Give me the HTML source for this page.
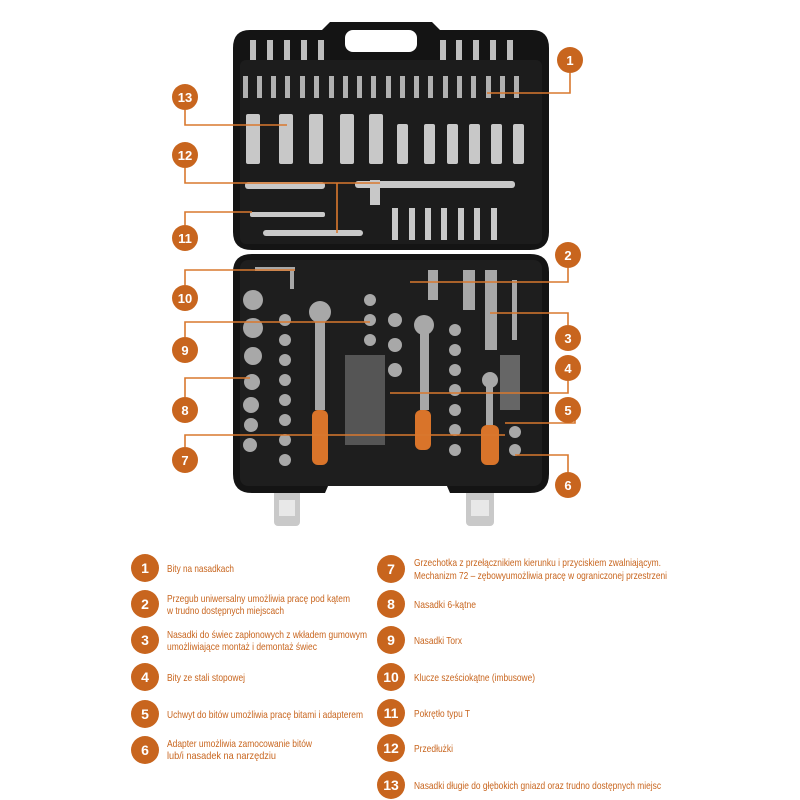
<!DOCTYPE html>
<html><head><meta charset="utf-8"><style>
html,body{margin:0;padding:0;background:#fff}
svg{display:block}
.t{font-family:"Liberation Sans",sans-serif;font-size:10.5px;fill:#c8651e}
.n{font-family:"Liberation Sans",sans-serif;font-weight:bold;fill:#fff;text-anchor:middle}
.l{stroke:#d9782e;stroke-width:1.6;fill:none}
</style></head><body>
<svg width="800" height="800" viewBox="0 0 800 800" xmlns="http://www.w3.org/2000/svg">
<rect x="274" y="482" width="26" height="44" rx="4" fill="#c9c9c9"/>
<rect x="466" y="482" width="28" height="44" rx="4" fill="#c9c9c9"/>
<rect x="279" y="500" width="16" height="16" fill="#e8e8e8"/>
<rect x="471" y="500" width="18" height="16" fill="#e8e8e8"/>
<path d="M250 30 Q233 30 233 48 L233 232 Q233 250 252 250 L530 250 Q549 250 549 232 L549 48 Q549 30 532 30 L440 30 L432 22 L330 22 L322 30 Z" fill="#141414"/>
<rect x="345" y="30" width="72" height="22" rx="8" fill="#fff"/>
<path d="M252 254 Q233 254 233 272 L233 474 Q233 493 252 493 L325 493 L335 470 L440 470 L450 493 L530 493 Q549 493 549 474 L549 272 Q549 254 530 254 Z" fill="#141414"/>
<rect x="240" y="260" width="302" height="226" rx="8" fill="#1e1e1e"/>
<rect x="240" y="60" width="302" height="184" rx="6" fill="#1c1c1c"/>
<g fill="#bdbdbd">
<rect x="250" y="40" width="6" height="20"/><rect x="267" y="40" width="6" height="20"/><rect x="284" y="40" width="6" height="20"/><rect x="301" y="40" width="6" height="20"/><rect x="318" y="40" width="6" height="20"/>
<rect x="440" y="40" width="6" height="20"/><rect x="456" y="40" width="6" height="20"/><rect x="473" y="40" width="6" height="20"/><rect x="490" y="40" width="6" height="20"/><rect x="507" y="40" width="6" height="20"/>
</g>
<g fill="#b0b0b0">
<rect x="243" y="76" width="5" height="22"/><rect x="257" y="76" width="5" height="22"/><rect x="271" y="76" width="5" height="22"/><rect x="285" y="76" width="5" height="22"/><rect x="300" y="76" width="5" height="22"/><rect x="314" y="76" width="5" height="22"/><rect x="329" y="76" width="5" height="22"/><rect x="343" y="76" width="5" height="22"/><rect x="357" y="76" width="5" height="22"/><rect x="371" y="76" width="5" height="22"/><rect x="386" y="76" width="5" height="22"/><rect x="400" y="76" width="5" height="22"/><rect x="414" y="76" width="5" height="22"/><rect x="428" y="76" width="5" height="22"/><rect x="443" y="76" width="5" height="22"/><rect x="457" y="76" width="5" height="22"/><rect x="471" y="76" width="5" height="22"/><rect x="486" y="76" width="5" height="22"/><rect x="500" y="76" width="5" height="22"/><rect x="514" y="76" width="5" height="22"/>
</g>
<g fill="#c8c8c8">
<rect x="246" y="114" width="14" height="50" rx="2"/><rect x="279" y="114" width="14" height="50" rx="2"/><rect x="309" y="114" width="14" height="50" rx="2"/><rect x="340" y="114" width="14" height="50" rx="2"/><rect x="369" y="114" width="14" height="50" rx="2"/>
<rect x="397" y="124" width="11" height="40" rx="2"/><rect x="424" y="124" width="11" height="40" rx="2"/><rect x="447" y="124" width="11" height="40" rx="2"/><rect x="469" y="124" width="11" height="40" rx="2"/><rect x="491" y="124" width="11" height="40" rx="2"/><rect x="513" y="124" width="11" height="40" rx="2"/>
<rect x="245" y="182" width="80" height="7" rx="3"/><rect x="355" y="181" width="160" height="7" rx="3"/><rect x="370" y="180" width="10" height="25"/>
<rect x="250" y="212" width="75" height="5" rx="2"/><rect x="263" y="230" width="100" height="6" rx="3"/>
<rect x="392" y="208" width="6" height="32"/><rect x="409" y="208" width="6" height="32"/><rect x="425" y="208" width="6" height="32"/><rect x="441" y="208" width="6" height="32"/><rect x="458" y="208" width="6" height="32"/><rect x="474" y="208" width="6" height="32"/><rect x="491" y="208" width="6" height="32"/>
</g>
<g fill="#a8a8a8">
<circle cx="253" cy="300" r="10"/><circle cx="253" cy="328" r="10"/><circle cx="253" cy="356" r="9"/><circle cx="252" cy="382" r="8"/><circle cx="251" cy="405" r="8"/><circle cx="251" cy="425" r="7"/><circle cx="250" cy="445" r="7"/>
<circle cx="285" cy="320" r="6"/><circle cx="285" cy="340" r="6"/><circle cx="285" cy="360" r="6"/><circle cx="285" cy="380" r="6"/><circle cx="285" cy="400" r="6"/><circle cx="285" cy="420" r="6"/><circle cx="285" cy="440" r="6"/><circle cx="285" cy="460" r="6"/>
<circle cx="370" cy="300" r="6"/><circle cx="370" cy="320" r="6"/><circle cx="370" cy="340" r="6"/><circle cx="395" cy="320" r="7"/><circle cx="395" cy="345" r="7"/><circle cx="395" cy="370" r="7"/>
<circle cx="455" cy="330" r="6"/><circle cx="455" cy="350" r="6"/><circle cx="455" cy="370" r="6"/><circle cx="455" cy="390" r="6"/><circle cx="455" cy="410" r="6"/><circle cx="455" cy="430" r="6"/><circle cx="455" cy="450" r="6"/>
<circle cx="320" cy="312" r="11"/><circle cx="424" cy="325" r="10"/><circle cx="490" cy="380" r="8"/><circle cx="515" cy="432" r="6"/><circle cx="515" cy="450" r="6"/>
<rect x="315" y="320" width="10" height="90"/><rect x="420" y="332" width="9" height="78"/><rect x="486" y="386" width="7" height="40"/>
<rect x="428" y="270" width="10" height="30"/><rect x="463" y="270" width="12" height="40"/><rect x="485" y="270" width="12" height="80"/><rect x="512" y="280" width="5" height="60"/>
<rect x="255" y="267" width="40" height="4"/><rect x="290" y="267" width="4" height="22"/>
<rect x="345" y="355" width="40" height="90" fill="#555"/>
<rect x="500" y="355" width="20" height="55" fill="#666"/>
</g>
<g fill="#d9742a">
<rect x="312" y="410" width="16" height="55" rx="6"/><rect x="415" y="410" width="16" height="40" rx="6"/><rect x="481" y="425" width="18" height="40" rx="6"/>
</g>
<path class="l" d="M570 73 V93 H487"/>
<path class="l" d="M185 110 V125 H287"/>
<path class="l" d="M185 168 V183 H380 M337 183 V233"/>
<path class="l" d="M185 225 V212 H252"/>
<path class="l" d="M185 285 V270 H295"/>
<path class="l" d="M185 337 V322 H370"/>
<path class="l" d="M185 397 V378 H250"/>
<path class="l" d="M185 447 V435 H505"/>
<path class="l" d="M568 268 V282 H410"/>
<path class="l" d="M568 325 V313 H490"/>
<path class="l" d="M568 381 V393 H390"/>
<path class="l" d="M575 410 V423 H505"/>
<path class="l" d="M568 472 V455 H515"/>
<g fill="#c8651e">
<circle cx="570" cy="60" r="13"/><circle cx="185" cy="97" r="13"/><circle cx="185" cy="155" r="13"/><circle cx="185" cy="238" r="13"/><circle cx="185" cy="298" r="13"/><circle cx="185" cy="350" r="13"/><circle cx="185" cy="410" r="13"/><circle cx="185" cy="460" r="13"/>
<circle cx="568" cy="255" r="13"/><circle cx="568" cy="338" r="13"/><circle cx="568" cy="368" r="13"/><circle cx="568" cy="410" r="13"/><circle cx="568" cy="485" r="13"/>
</g>
<g class="n" font-size="13">
<text x="570" y="65">1</text><text x="185" y="102">13</text><text x="185" y="160">12</text><text x="185" y="243">11</text><text x="185" y="303">10</text><text x="185" y="355">9</text><text x="185" y="415">8</text><text x="185" y="465">7</text>
<text x="568" y="260">2</text><text x="568" y="343">3</text><text x="568" y="373">4</text><text x="568" y="415">5</text><text x="568" y="490">6</text>
</g>
<g fill="#c8651e">
<circle cx="145" cy="568" r="14"/><circle cx="145" cy="604" r="14"/><circle cx="145" cy="640" r="14"/><circle cx="145" cy="677" r="14"/><circle cx="145" cy="714" r="14"/><circle cx="145" cy="750" r="14"/>
<circle cx="391" cy="569" r="14"/><circle cx="391" cy="604" r="14"/><circle cx="391" cy="640" r="14"/><circle cx="391" cy="677" r="14"/><circle cx="391" cy="713" r="14"/><circle cx="391" cy="748" r="14"/><circle cx="391" cy="785" r="14"/>
</g>
<g class="n" font-size="14">
<text x="145" y="573">1</text><text x="145" y="609">2</text><text x="145" y="645">3</text><text x="145" y="682">4</text><text x="145" y="719">5</text><text x="145" y="755">6</text>
<text x="391" y="574">7</text><text x="391" y="609">8</text><text x="391" y="645">9</text><text x="391" y="682">10</text><text x="391" y="718">11</text><text x="391" y="753">12</text><text x="391" y="790">13</text>
</g>
<g class="t">
<text x="167" y="572" textLength="67" lengthAdjust="spacingAndGlyphs">Bity na nasadkach</text>
<text x="167" y="602" textLength="183" lengthAdjust="spacingAndGlyphs">Przegub uniwersalny umożliwia pracę pod kątem</text>
<text x="167" y="614" textLength="117" lengthAdjust="spacingAndGlyphs">w trudno dostępnych miejscach</text>
<text x="167" y="638" textLength="200" lengthAdjust="spacingAndGlyphs">Nasadki do świec zapłonowych z wkładem gumowym</text>
<text x="167" y="650" textLength="150" lengthAdjust="spacingAndGlyphs">umożliwiające montaż i demontaż świec</text>
<text x="167" y="681" textLength="78" lengthAdjust="spacingAndGlyphs">Bity ze stali stopowej</text>
<text x="167" y="718" textLength="196" lengthAdjust="spacingAndGlyphs">Uchwyt do bitów umożliwia pracę bitami i adapterem</text>
<text x="167" y="747" textLength="145" lengthAdjust="spacingAndGlyphs">Adapter umożliwia zamocowanie bitów</text>
<text x="167" y="759" textLength="109" lengthAdjust="spacingAndGlyphs">lub/i nasadek na narzędziu</text>
<text x="414" y="566" textLength="247" lengthAdjust="spacingAndGlyphs">Grzechotka z przełącznikiem kierunku i przyciskiem zwalniającym.</text>
<text x="414" y="579" textLength="253" lengthAdjust="spacingAndGlyphs">Mechanizm 72 – zębowyumożliwia pracę w ograniczonej przestrzeni</text>
<text x="414" y="608" textLength="62" lengthAdjust="spacingAndGlyphs">Nasadki 6-kątne</text>
<text x="414" y="644" textLength="48" lengthAdjust="spacingAndGlyphs">Nasadki Torx</text>
<text x="414" y="681" textLength="121" lengthAdjust="spacingAndGlyphs">Klucze sześciokątne (imbusowe)</text>
<text x="414" y="717" textLength="56" lengthAdjust="spacingAndGlyphs">Pokrętło typu T</text>
<text x="414" y="752" textLength="39" lengthAdjust="spacingAndGlyphs">Przedłużki</text>
<text x="414" y="789" textLength="247" lengthAdjust="spacingAndGlyphs">Nasadki długie do głębokich gniazd oraz trudno dostępnych miejsc</text>
</g>
</svg>
</body></html>
